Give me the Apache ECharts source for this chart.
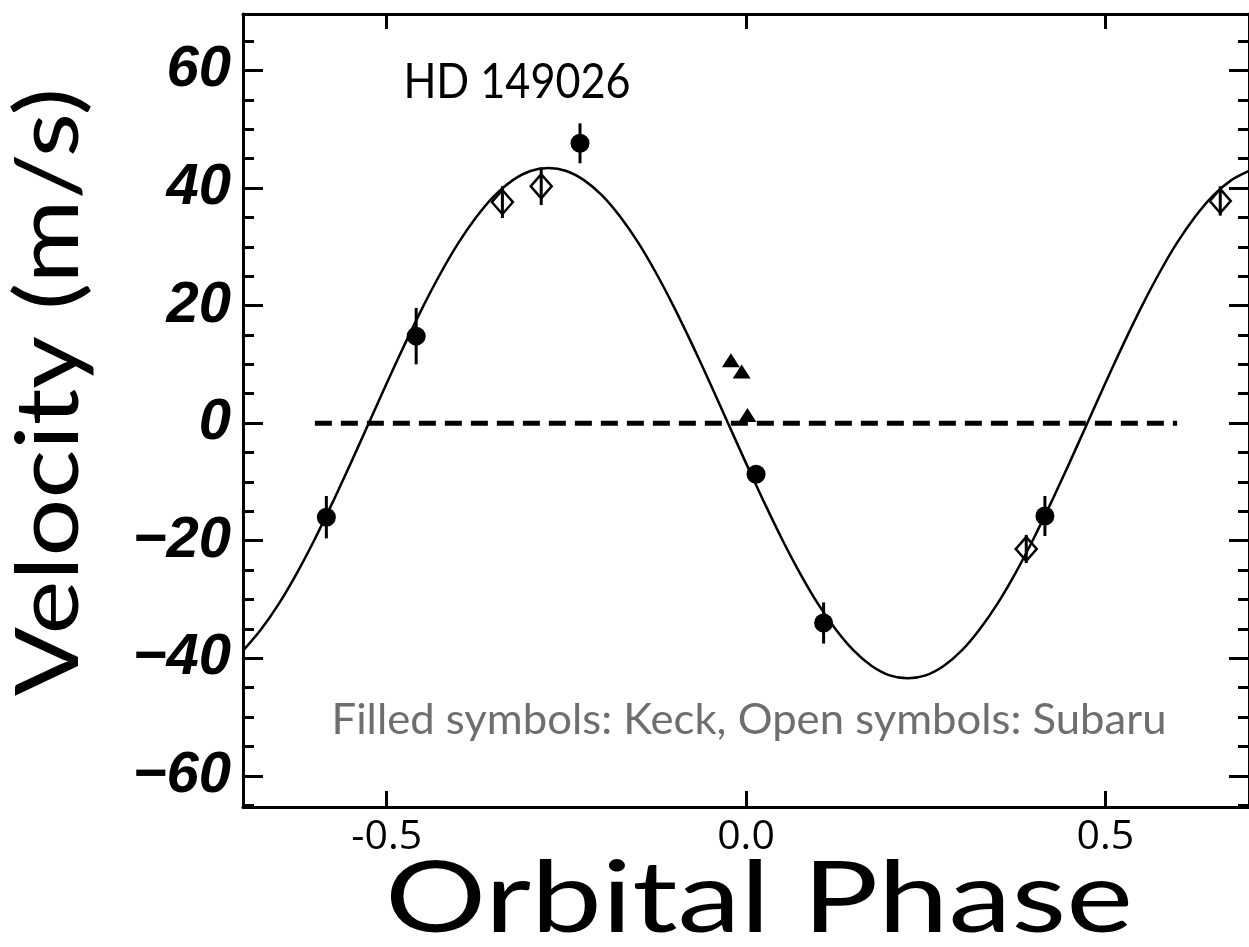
<!DOCTYPE html>
<html><head><meta charset="utf-8">
<script src="https://cdn.jsdelivr.net/npm/echarts@6/dist/echarts.min.js"></script>
<style>html,body{margin:0;padding:0;background:#fff}#c{width:1249px;height:947px}</style>
</head><body><div id="c"></div>
<script>
// Model (fitted orbit)
const modelPhase = [-0.700,-0.675,-0.650,-0.625,-0.600,-0.575,-0.550,-0.525,-0.500,-0.475,-0.450,-0.425,-0.400,-0.375,-0.350,-0.325,-0.300,-0.275,-0.250,-0.225,-0.200,-0.175,-0.150,-0.125,-0.100,-0.075,-0.050,-0.025,0.000,0.025,0.050,0.075,0.100,0.125,0.150,0.175,0.200,0.225,0.250,0.275,0.300,0.325,0.350,0.375,0.400,0.425,0.450,0.475,0.500,0.525,0.550,0.575,0.600,0.625,0.650,0.675,0.700];
const modelVelocity = [-38.7,-35.1,-30.7,-25.5,-19.7,-13.4,-6.8,0.0,6.8,13.4,19.7,25.5,30.7,35.1,38.7,41.3,42.9,43.4,42.9,41.3,38.7,35.1,30.7,25.5,19.7,13.4,6.8,0.0,-6.8,-13.4,-19.7,-25.5,-30.7,-35.1,-38.7,-41.3,-42.9,-43.4,-42.9,-41.3,-38.7,-35.1,-30.7,-25.5,-19.7,-13.4,-6.8,0.0,6.8,13.4,19.7,25.5,30.7,35.1,38.7,41.3,42.9];
// Keck (filled circles)
const keckPhase = [-0.584,-0.459,-0.231,0.014,0.108,0.416];
const keckVelocity = [-16.0,14.8,47.6,-8.7,-34.0,-15.8];
const keckError = [3.6,4.8,3.4,1.2,3.5,3.4];
// Keck (filled triangles near phase 0)
const keckTriPhase = [-0.021,-0.006,0.002];
const keckTriVelocity = [10.7,8.8,1.4];
// Subaru (open diamonds)
const subaruPhase = [-0.339,-0.285,0.390,0.660];
const subaruVelocity = [37.6,40.3,-21.4,37.8];
const subaruError = [2.7,3.2,2.4,2.5];
// zero line
const zeroPhase = [-0.6, 0.6];
const zeroVelocity = [0, 0];
// ticks
const xTicks = [-0.5, 0, 0.5];
const xTickLabels = ['-0.5', '0.0', '0.5'];
const yMajorTicks = [-60,-40,-20,0,20,40,60];
const yMinorTicks = [-65,-55,-50,-45,-35,-30,-25,-15,-10,-5,5,10,15,25,30,35,45,50,55,65];

const X_MIN = -0.7, X_MAX = 0.7, Y_MIN = -65.3, Y_MAX = 69.6;

const zip = (a, b, c) => a.map((v, i) => c ? [v, b[i], c[i]] : [v, b[i]]);

function errorBars(xs, ys, es) {
  return {
    type: 'custom', xAxisIndex: 0, yAxisIndex: 0, z: 4,
    data: zip(xs, ys, es), encode: {x: 0, y: 1},
    renderItem: function (params, api) {
      const x = api.value(0), y = api.value(1), e = api.value(2);
      const p1 = api.coord([x, y - e]), p2 = api.coord([x, y + e]);
      return {type: 'line', shape: {x1: p1[0], y1: p1[1], x2: p2[0], y2: p2[1]},
              style: {stroke: '#000', lineWidth: 3}};
    }
  };
}

const yLab = v => v < 0 ? '\u2212' + Math.abs(v) : String(v);
const yLabelFont = {fontFamily: "'Liberation Sans', Arial", fontWeight: 'bold', fontStyle: 'italic', fontSize: 58, color: '#000'};

function yAx(pos, ticks, len, labels, line) {
  return {
    type: 'value', position: pos, min: Y_MIN, max: Y_MAX,
    axisLine: {show: line, onZero: false, lineStyle: {color: '#000', width: 3}},
    axisTick: {show: true, inside: true, length: len, customValues: ticks, lineStyle: {color: '#000', width: 3}},
    axisLabel: labels ? Object.assign({show: true, customValues: yMajorTicks, formatter: yLab, margin: 12}, yLabelFont) : {show: false},
    splitLine: {show: false}
  };
}

const chart = echarts.init(document.getElementById('c'), null, {renderer: 'canvas'});
chart.setOption({
  animation: false,
  backgroundColor: '#fff',
  grid: {left: 243, top: 14, width: 1015, height: 793, containLabel: false},
  xAxis: [
    {type: 'value', position: 'bottom', min: X_MIN, max: X_MAX,
     axisLine: {show: true, onZero: false, lineStyle: {color: '#000', width: 3}},
     axisTick: {show: true, inside: true, length: 16, customValues: xTicks, lineStyle: {color: '#000', width: 3}},
     axisLabel: {show: true, customValues: xTicks, formatter: v => xTickLabels[xTicks.indexOf(v)] ?? String(v),
                 fontFamily: "'Open Sans'", fontSize: 41, color: '#000', margin: 10},
     splitLine: {show: false}},
    {type: 'value', position: 'top', min: X_MIN, max: X_MAX,
     axisLine: {show: true, onZero: false, lineStyle: {color: '#000', width: 3}},
     axisTick: {show: true, inside: true, length: 15, customValues: xTicks, lineStyle: {color: '#000', width: 3}},
     axisLabel: {show: false}, splitLine: {show: false}}
  ],
  yAxis: [
    yAx('left', yMajorTicks, 20, true, true),
    yAx('left', yMinorTicks, 11, false, false),
    yAx('right', yMajorTicks, 20, false, true),
    yAx('right', yMinorTicks, 11, false, false)
  ],
  graphic: [
    {type: 'text', x: 517, y: 83, scaleX: 0.9, style: {text: 'HD 149026', font: '48px Lato', fill: '#000', align: 'center', verticalAlign: 'middle'}},
    {type: 'text', x: 749, y: 720, scaleX: 1.015, style: {text: 'Filled symbols: Keck, Open symbols: Subaru', font: '43px Lato', fill: '#6e6e6e', align: 'center', verticalAlign: 'middle'}},
    {type: 'text', x: 759, y: 900, scaleX: 1.29, style: {text: 'Orbital Phase', font: '98px Lato', fill: '#000', align: 'center', verticalAlign: 'middle'}},
    {type: 'text', x: 50, y: 392, rotation: Math.PI / 2, scaleX: 1.16, style: {text: 'Velocity (m/s)', font: '88px Lato', fill: '#000', align: 'center', verticalAlign: 'middle'}}
  ],
  series: [
    {type: 'line', name: 'zero', data: zip(zeroPhase, zeroVelocity), showSymbol: false, symbol: 'none',
     lineStyle: {color: '#000', width: 5, type: [17, 9]}, z: 2},
    {type: 'line', name: 'model', data: zip(modelPhase, modelVelocity), showSymbol: false, symbol: 'none', smooth: 0.3,
     lineStyle: {color: '#000', width: 2.5}, z: 3},
    errorBars(keckPhase, keckVelocity, keckError),
    errorBars(subaruPhase, subaruVelocity, subaruError),
    {type: 'scatter', name: 'Keck', data: zip(keckPhase, keckVelocity), symbol: 'circle', symbolSize: 19,
     itemStyle: {color: '#000', opacity: 1}, z: 5},
    {type: 'scatter', name: 'Keck transit', data: zip(keckTriPhase, keckTriVelocity), symbol: 'triangle', symbolSize: [18, 14],
     itemStyle: {color: '#000', opacity: 1}, z: 5},
    {type: 'scatter', name: 'Subaru', data: zip(subaruPhase, subaruVelocity), symbol: 'diamond', symbolSize: [21, 24],
     itemStyle: {color: 'rgba(255,255,255,0)', borderColor: '#000', borderWidth: 2.5, opacity: 1}, z: 5}
  ]
});
</script></body></html>
